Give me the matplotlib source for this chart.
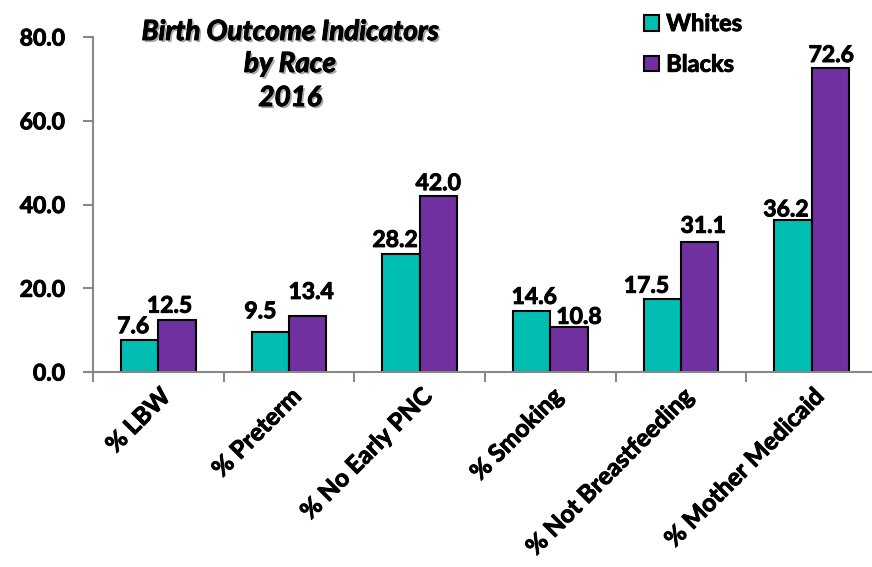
import matplotlib
matplotlib.use("Agg")
import matplotlib.pyplot as plt
import matplotlib.patheffects as pe
import numpy as np

categories = ["% LBW", "% Preterm", "% No Early PNC", "% Smoking", "% Not Breastfeeding", "% Mother Medicaid"]
whites = [7.6, 9.5, 28.2, 14.6, 17.5, 36.2]
blacks = [12.5, 13.4, 42.0, 10.8, 31.1, 72.6]
yticks = [0, 20, 40, 60, 80]
title_lines = ["Birth Outcome Indicators", "by Race", "2016"]

# value-label nudges (pixels) relative to bar top-centre, as placed in the original
whites_lbl_dx = [-6.5, -10, -6, 2.5, -16, -7]
whites_lbl_dy = [7, 14, 7, 7, 6, 4]
blacks_lbl_dx = [-7.5, 3.5, 0, 10, 3.5, 1]
blacks_lbl_dy = [7, 17, 6, 3, 9, 6]

plt.rcParams['font.family'] = ['Lato', 'DejaVu Sans']
W = 'bold'
FS = 16.5
thick = [pe.withStroke(linewidth=0.7, foreground='black')]
PX = 0.72  # points per pixel at 100 dpi

fig = plt.figure(figsize=(8.72, 5.67), dpi=100)
ax = fig.add_axes([93/872, 1-372/567, (877-93)/872, (372-37)/567])

x = np.arange(len(categories))
w = 0.285
teal = '#00BFB2'
purple = '#7030A0'
b1 = ax.bar(x - w/2, whites, w, color=teal, edgecolor='black', linewidth=1.5, label='Whites')
b2 = ax.bar(x + w/2, blacks, w, color=purple, edgecolor='black', linewidth=1.5, label='Blacks')

for bars, vals, dxs, dys in [(b1, whites, whites_lbl_dx, whites_lbl_dy),
                             (b2, blacks, blacks_lbl_dx, blacks_lbl_dy)]:
    for rect, v, dx, dy in zip(bars, vals, dxs, dys):
        ax.annotate(f"{v:.1f}", (rect.get_x() + rect.get_width()/2, v),
                    xytext=(dx*PX, dy*PX), textcoords='offset points',
                    ha='center', va='baseline', fontsize=FS, fontweight=W, path_effects=thick)

ax.set_xlim(-0.5, len(categories) - 0.5)
ax.set_ylim(0, 80)
ax.set_yticks(yticks)
ax.set_yticklabels([f"{t:.1f}" for t in yticks], fontsize=FS, fontweight=W)
ax.set_xticks(x)
ax.set_xticklabels(categories, rotation=45, ha='right', rotation_mode='anchor', fontsize=17.5, fontweight=W)
for lbl in ax.get_yticklabels() + ax.get_xticklabels():
    lbl.set_path_effects(thick)
ax.tick_params(axis='x', length=0, pad=9)
ax.set_xticks(np.arange(-0.5, len(categories) + 0.5, 1), minor=True)
ax.tick_params(axis='x', which='minor', length=7, color='#888888', width=1.5, direction='out')
ax.tick_params(axis='y', length=7, color='#888888', width=1.5, direction='out', pad=13)

for s in ['top', 'right']:
    ax.spines[s].set_visible(False)
for s in ['left', 'bottom']:
    ax.spines[s].set_color('#888888')
    ax.spines[s].set_linewidth(1.5)

shadow = [pe.withSimplePatchShadow(offset=(1.5, -1.5), shadow_rgbFace='#555555', alpha=0.5),
          pe.withStroke(linewidth=0.7, foreground='black')]
for line, yb in zip(title_lines, [40, 72, 106]):
    fig.text(290/872, 1-yb/567, line, ha='center', va='baseline',
             fontsize=20, fontweight=W, style='italic', path_effects=shadow)

leg = fig.legend(handles=[b1, b2], labels=['Whites', 'Blacks'], loc='upper left',
                 bbox_to_anchor=(644/872, 1-12/567), frameon=False, borderpad=0, borderaxespad=0,
                 handlelength=0.64, handleheight=0.64, handletextpad=0.3, labelspacing=0.75,
                 prop={'weight': W, 'size': 17})
for t in leg.get_texts():
    t.set_path_effects(thick)

fig.savefig("out.png", dpi=100)
